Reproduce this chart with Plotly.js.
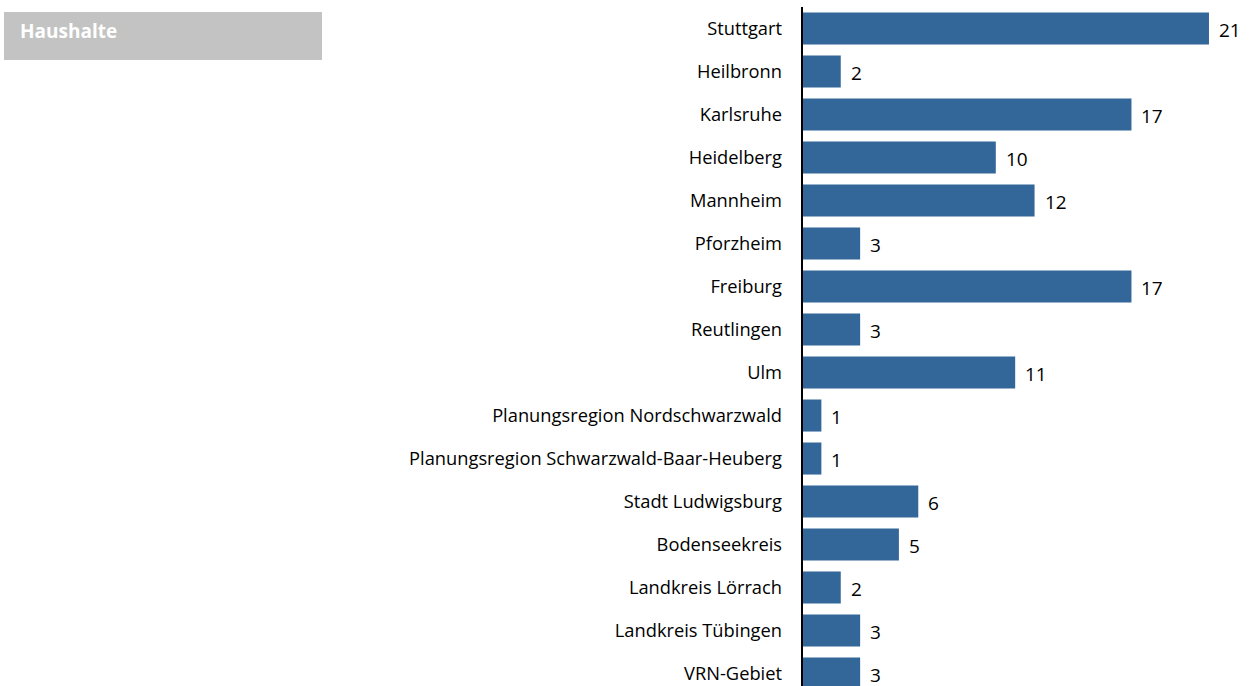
<!DOCTYPE html>
<html>
<head>
<meta charset="utf-8">
<script src="https://cdn.plot.ly/plotly-3.0.1.min.js"></script>
<style>html,body{margin:0;padding:0;background:#fff;}#chart{width:1249px;height:686px;}</style>
</head>
<body>
<div id="chart"></div>
<script>
const categories = ["Stuttgart","Heilbronn","Karlsruhe","Heidelberg","Mannheim","Pforzheim","Freiburg","Reutlingen","Ulm","Planungsregion Nordschwarzwald","Planungsregion Schwarzwald-Baar-Heuberg","Stadt Ludwigsburg","Bodenseekreis","Landkreis Lörrach","Landkreis Tübingen","VRN-Gebiet"];
const values = [21,2,17,10,12,3,17,3,11,1,1,6,5,2,3,3];
const titleText = "Haushalte";

const W = 1249, H = 686, L = 802, T = 7;
const pw = W - L, ph = H - T;
const px = x => (x - L) / pw;
const py = y => (H - y) / ph;

const annotations = values.map((v, i) => ({
  x: v, y: categories[i], xref: 'x', yref: 'y', text: String(v),
  showarrow: false, xanchor: 'left', xshift: 8, yshift: -1,
  font: {family: 'Open Sans, sans-serif', size: 19, color: '#000'}
}));
annotations.push({
  xref: 'paper', yref: 'paper', x: px(18), y: py(31), xanchor: 'left', yanchor: 'middle',
  text: '<b>' + titleText + '</b>', showarrow: false,
  font: {family: 'Open Sans, sans-serif', size: 19, color: '#fff'}
});

const data = [{
  type: 'bar', orientation: 'h', x: values, y: categories,
  marker: {color: '#336699'}, hoverinfo: 'none', cliponaxis: false
}];

const layout = {
  width: W, height: H,
  margin: {l: L, r: 0, t: T, b: 0, pad: 0},
  paper_bgcolor: '#fff', plot_bgcolor: '#fff',
  bargap: 0.255, showlegend: false,
  xaxis: {range: [0, pw / 19.38], visible: false, fixedrange: true},
  yaxis: {
    type: 'category', range: [15.29, -0.5], showgrid: false, zeroline: false,
    showline: false, ticks: '', ticklen: 0, automargin: false,
    tickfont: {family: 'Open Sans, sans-serif', size: 18.3, color: '#000'},
    ticklabelstandoff: 19
  },
  shapes: [
    {type: 'line', xref: 'paper', yref: 'paper', x0: 0, x1: 0, y0: 0, y1: 1,
     line: {color: '#000', width: 2}},
    {type: 'rect', xref: 'paper', yref: 'paper', x0: px(4), x1: px(322), y0: py(60), y1: py(12),
     fillcolor: '#c3c3c3', line: {width: 0}, layer: 'below'}
  ],
  annotations: annotations
};

Plotly.newPlot('chart', data, layout, {displayModeBar: false, staticPlot: true});
</script>
</body>
</html>
